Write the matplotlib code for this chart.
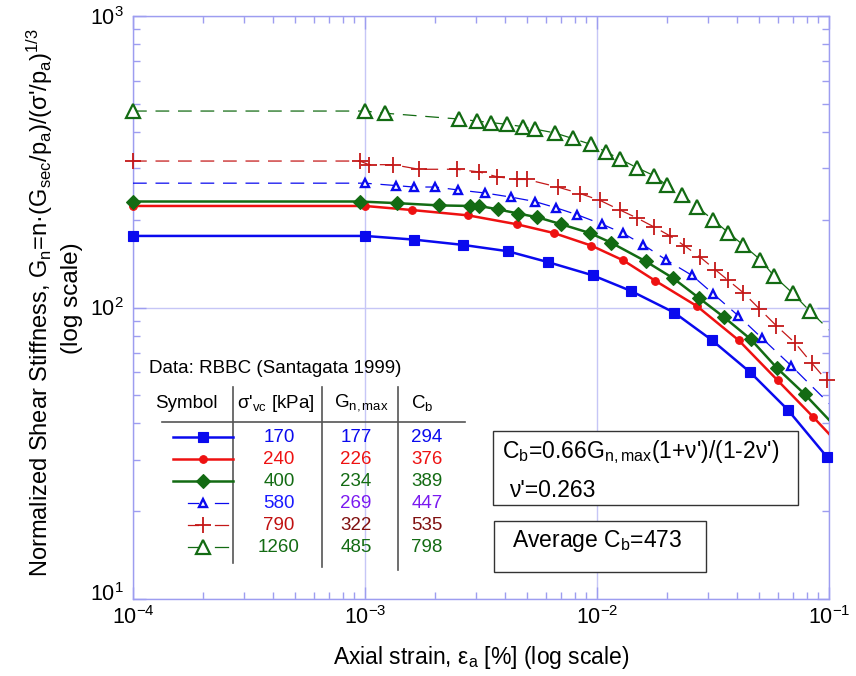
import numpy as np
import matplotlib
matplotlib.use("Agg")
import matplotlib.pyplot as plt
from matplotlib.ticker import LogLocator, NullFormatter
from matplotlib.lines import Line2D
from matplotlib.patches import Rectangle
from matplotlib.transforms import offset_copy

plt.rcParams['font.family'] = ['Liberation Sans', 'DejaVu Sans']
plt.rcParams['mathtext.fontset'] = 'custom'
plt.rcParams['mathtext.rm'] = 'Liberation Sans'
plt.rcParams['mathtext.it'] = 'Liberation Sans:italic'
plt.rcParams['mathtext.bf'] = 'Liberation Sans:bold'
plt.rcParams['mathtext.default'] = 'regular'

# ---- data: axial strain [%] and normalized shear stiffness Gn ----
strain_170 = [1e-4, 1e-3, 1.62e-3, 2.64e-3, 4.12e-3, 6.17e-3, 9.57e-3, 0.0140,
              0.0215, 0.0312, 0.0458, 0.0664, 0.0977]
gn_170 = [176, 176, 171, 164, 156, 143, 129, 114, 96.1, 77.4, 59.9, 44.6, 30.8]

strain_240 = [1e-4, 1e-3, 1.59e-3, 2.79e-3, 4.51e-3, 6.53e-3, 9.46e-3, 0.0130,
              0.0178, 0.0270, 0.0408, 0.0601, 0.0855, 0.11]
gn_240 = [223, 223, 216, 207, 193, 180, 163, 145, 123.6, 101, 77.2, 56.2, 42.1, 34]

strain_400 = [1e-4, 9.5e-4, 1.38e-3, 2.09e-3, 2.84e-3, 3.11e-3, 3.76e-3, 4.58e-3,
              5.53e-3, 7.02e-3, 9.33e-3, 0.01148, 0.01622, 0.0213, 0.0276, 0.0353,
              0.0460, 0.0599, 0.0786, 0.11]
gn_400 = [231, 231, 228, 224, 223, 223, 217, 210, 204, 193, 180, 167, 144, 126,
          107.6, 92.6, 77.8, 61.8, 50.4, 38]

strain_580 = [1e-4, 1e-3, 1.36e-3, 1.62e-3, 2.01e-3, 2.52e-3, 3.30e-3, 4.28e-3,
              5.39e-3, 6.64e-3, 8.22e-3, 0.01052, 0.01291, 0.01585, 0.01977, 0.0257,
              0.0317, 0.0407, 0.0513, 0.0686, 0.115]
gn_580 = [267, 267, 262, 259, 259, 253, 247, 239, 231, 220, 208, 193, 180, 164,
          146, 128.8, 111.4, 93.6, 78.6, 63.2, 42]

strain_790 = [1e-4, 9.5e-4, 1.04e-3, 1.32e-3, 1.71e-3, 2.48e-3, 3.09e-3, 3.70e-3,
              4.51e-3, 4.98e-3, 6.77e-3, 8.45e-3, 0.01031, 0.01256, 0.01483, 0.01761,
              0.02065, 0.02379, 0.0278, 0.03226, 0.03683, 0.04274, 0.0501, 0.0592,
              0.0714, 0.0842, 0.0977]
gn_790 = [318, 318, 309, 309, 298, 298, 292, 281, 275, 275, 259, 246, 233, 216, 203,
          189, 176, 163, 149, 135, 123.8, 112.4, 99, 86.7, 75.6, 64.5, 56.2]

strain_1260 = [1e-4, 1e-3, 1.22e-3, 2.55e-3, 3.05e-3, 3.48e-3, 4.09e-3, 4.81e-3,
               5.42e-3, 6.59e-3, 7.85e-3, 9.39e-3, 0.01094, 0.01256, 0.01483, 0.01766,
               0.01995, 0.02331, 0.02706, 0.0317, 0.0368, 0.0427, 0.0505, 0.0582,
               0.0697, 0.0828, 0.11]
gn_1260 = [472, 472, 464, 443, 436, 431, 425, 417, 409, 397, 380, 363, 342, 323, 302,
           283, 263, 243, 221, 199.6, 180.7, 163.7, 146, 127.8, 112, 97.1, 78]

# ---- summary table ----
sigma_vc = [170, 240, 400, 580, 790, 1260]
gn_max = [177, 226, 234, 269, 322, 485]
c_b = [294, 376, 389, 447, 535, 798]
avg_cb = 473
nu = 0.263

xticks = [1e-4, 1e-3, 1e-2, 1e-1]
yticks = [10, 100, 1000]

BLUE = '#0a0aee'
RED = '#ee1111'
GREEN = '#136b13'
DRED = '#c41818'

series = [
    dict(x=strain_170, y=gn_170, color=BLUE, ls='-', lw=1.8, marker='s', ms=6.5,
         mfc=BLUE, mew=0.8, skip_first=False),
    dict(x=strain_240, y=gn_240, color=RED, ls='-', lw=1.8, marker='o', ms=5.5,
         mfc=RED, mew=0.8, skip_first=False),
    dict(x=strain_400, y=gn_400, color=GREEN, ls='-', lw=1.8, marker='D', ms=7,
         mfc=GREEN, mew=0.8, skip_first=False),
    dict(x=strain_580, y=gn_580, color=BLUE, ls=(0, (11, 7)), lw=0.9, marker='^', ms=6,
         mfc='white', mew=1.7, skip_first=True),
    dict(x=strain_790, y=gn_790, color=DRED, ls=(0, (11, 7)), lw=0.9, marker='+', ms=11,
         mfc=DRED, mew=1.3, skip_first=False),
    dict(x=strain_1260, y=gn_1260, color=GREEN, ls=(0, (11, 7)), lw=0.9, marker='^', ms=10,
         mfc='white', mew=1.6, skip_first=False),
]

W, H = 856, 676
fig = plt.figure(figsize=(W / 100, H / 100), dpi=100)
fig.patch.set_facecolor('white')


def fx(px):
    return px / W


def fy(py):
    return 1 - py / H


ax = fig.add_axes([fx(133), fy(599), (829 - 133) / W, (599 - 16) / H])
ax.set_xscale('log')
ax.set_yscale('log')
ax.set_xlim(1e-4, 1e-1)
ax.set_ylim(10, 1000)

FRAME = '#9d9df0'
ax.grid(True, which='major', color='#c6c6f6', lw=1.0)
ax.set_axisbelow(True)
for sp in ax.spines.values():
    sp.set_color(FRAME)
    sp.set_linewidth(1.0)
ax.set_xticks(xticks)
ax.set_yticks(yticks)
ax.xaxis.set_minor_locator(LogLocator(base=10, subs=np.arange(2, 10)))
ax.yaxis.set_minor_locator(LogLocator(base=10, subs=np.arange(2, 10)))
ax.xaxis.set_minor_formatter(NullFormatter())
ax.yaxis.set_minor_formatter(NullFormatter())
ax.tick_params(which='both', direction='in', top=True, right=True, color=FRAME,
               labelsize=15.5, width=1.0)
ax.tick_params(which='major', length=9)
ax.tick_params(axis='x', which='major', pad=5)
ax.tick_params(axis='y', which='major', pad=7)
ax.tick_params(which='minor', length=5)

# lift the lowest y tick label a little so it clears the first x tick label
fig.canvas.draw()
ylabels = ax.get_yticklabels()
ylabels[0].set_transform(offset_copy(ylabels[0].get_transform(), fig=fig,
                                     x=0, y=7, units='dots'))

xmin, xmax = ax.get_xlim()
for s in series:
    x = np.array(s['x'])
    y = np.array(s['y'])
    ax.plot(x, y, color=s['color'], ls=s['ls'], lw=s['lw'], zorder=3)
    mask = (x >= xmin) & (x <= xmax)
    if s['skip_first']:
        mask[0] = False
    ax.plot(x[mask], y[mask], ls='none', marker=s['marker'], ms=s['ms'],
            mfc=s['mfc'], mec=s['color'], mew=s['mew'], clip_on=False, zorder=4)

# ---- axis labels ----
fig.text(fx(481), fy(664), r"Axial strain, ε$_\mathregular{a}$ [%] (log scale)",
         ha='center', va='baseline', fontsize=16.5)
fig.text(fx(40), fy(303),
         r"Normalized Shear Stiffness, G$_\mathregular{n}$=n·(G$_\mathregular{sec}$/p$_\mathregular{a}$)/(σ'/p$_\mathregular{a}$)$^\mathregular{1/3}$",
         ha='center', va='center', rotation=90, fontsize=17)
fig.text(fx(72), fy(298), "(log scale)", ha='center', va='center', rotation=90,
         fontsize=17.5)

# ---- data table ----
TS = 13.5
fig.text(fx(149), fy(369), "Data: RBBC (Santagata 1999)", ha='left', va='center',
         fontsize=TS)
fig.text(fx(155), fy(403), "Symbol", ha='left', va='center', fontsize=TS)
fig.text(fx(237), fy(403), r"σ'$_\mathregular{vc}$ [kPa]", ha='left', va='center',
         fontsize=TS)
fig.text(fx(334), fy(403), r"G$_\mathregular{n,max}$", ha='left', va='center',
         fontsize=TS)
fig.text(fx(411), fy(403), r"C$_\mathregular{b}$", ha='left', va='center', fontsize=TS)

RULE = '#555555'
fig.add_artist(Line2D([fx(162), fx(465)], [fy(421.7), fy(421.7)], color=RULE, lw=1.2))
for xv, yb in [(233, 563), (322, 567), (398, 570)]:
    fig.add_artist(Line2D([fx(xv), fx(xv)], [fy(387), fy(yb)], color=RULE, lw=1.2))

row_y = [437, 459, 481, 503, 525, 547]
col_sigma_colors = [BLUE, RED, GREEN, '#1a1aff', '#c01010', GREEN]
col_gn_colors = [BLUE, RED, GREEN, '#7a1af0', '#801010', GREEN]
col_cb_colors = [BLUE, RED, GREEN, '#7a1af0', '#801010', GREEN]

for i, s in enumerate(series):
    yy = fy(row_y[i])
    if s['ls'] == '-':
        fig.add_artist(Line2D([fx(173), fx(233)], [yy, yy], color=s['color'], lw=s['lw']))
    else:
        fig.add_artist(Line2D([fx(188), fx(198)], [yy, yy], color=s['color'], lw=s['lw']))
        fig.add_artist(Line2D([fx(215), fx(228)], [yy, yy], color=s['color'], lw=s['lw']))
    fig.add_artist(Line2D([fx(203)], [yy], ls='none', marker=s['marker'], ms=s['ms'],
                          mfc=s['mfc'], mec=s['color'], mew=s['mew']))
    fig.text(fx(279), yy, f"{sigma_vc[i]}", ha='center', va='center', fontsize=TS,
             color=col_sigma_colors[i])
    fig.text(fx(356), yy, f"{gn_max[i]}", ha='center', va='center', fontsize=TS,
             color=col_gn_colors[i])
    fig.text(fx(427), yy, f"{c_b[i]}", ha='center', va='center', fontsize=TS,
             color=col_cb_colors[i])

# ---- formula boxes ----
BOX = '#333333'
fig.add_artist(Rectangle((fx(492.7), fy(505)), (797.7 - 492.7) / W, (505 - 431) / H,
                         transform=fig.transFigure, fc='white', ec=BOX, lw=1.0, zorder=5))
fig.add_artist(Rectangle((fx(494), fy(571.7)), (705.7 - 494) / W, (571.7 - 521) / H,
                         transform=fig.transFigure, fc='white', ec=BOX, lw=1.0, zorder=5))
BS = 16.5
fig.text(fx(502), fy(458),
         r"C$_\mathregular{b}$=0.66G$_\mathregular{n,max}$(1+ν')/(1-2ν')",
         ha='left', va='baseline', fontsize=BS, zorder=6)
fig.text(fx(509), fy(497), f"ν'={nu}", ha='left', va='baseline', fontsize=BS, zorder=6)
fig.text(fx(512), fy(547), r"Average C$_\mathregular{b}$=" + f"{avg_cb}",
         ha='left', va='baseline', fontsize=BS, zorder=6)

fig.savefig("out.png", dpi=100)
